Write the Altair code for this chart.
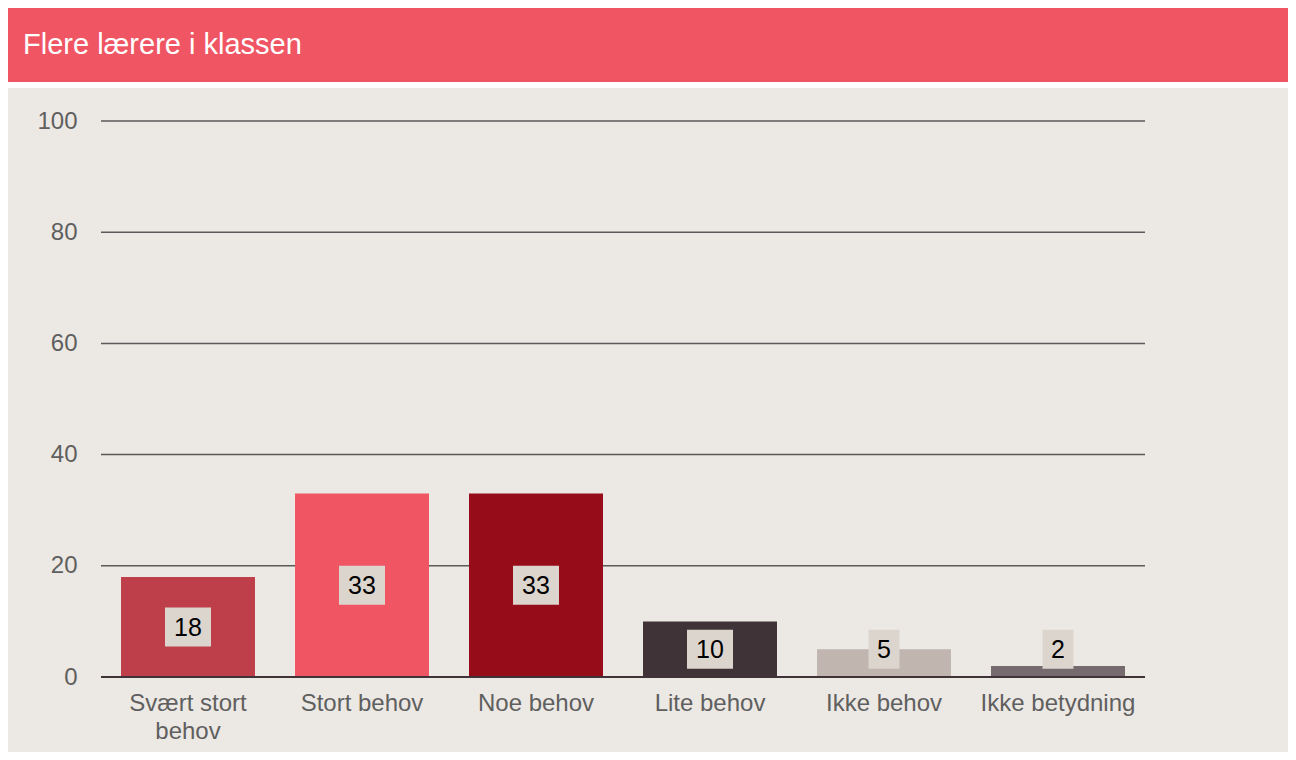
import altair as alt
import pandas as pd

# ---- data ----
categories = ["Svært stort behov", "Stort behov", "Noe behov", "Lite behov", "Ikke behov", "Ikke betydning"]
values = [18, 33, 33, 10, 5, 2]
bar_colors = ["#BE3F4A", "#F05563", "#960C18", "#3F3337", "#C0B5AF", "#756B6F"]
y_ticks = [0, 20, 40, 60, 80, 100]
header_text = "Flere lærere i klassen"

FONT = "Liberation Sans"
BEIGE = "#ECE8E3"
RED = "#F05563"
BOX = "#DCD5CE"

df = pd.DataFrame({"kategori": categories, "verdi": values})
ticks_df = pd.DataFrame({"tick": y_ticks})
one = pd.DataFrame({"d": [0]})

x_scale = alt.Scale(domain=categories, paddingInner=0.23, paddingOuter=0.115)
y_scale = alt.Scale(domain=[0, 100], nice=False)

label_expr = "datum.value == 'Svært stort behov' ? ['Svært stort', 'behov'] : datum.value"

x_enc = alt.X("kategori:N", scale=x_scale, sort=categories, title=None,
              axis=alt.Axis(labelAngle=0, labelFontSize=24, labelColor="#5F5F5F",
                            labelFont=FONT, labelPadding=14, labelLineHeight=28,
                            labelExpr=label_expr, domain=False, ticks=False,
                            grid=False, zindex=1, labelBaseline="top"))
y_enc = alt.Y("verdi:Q", scale=y_scale, title=None,
              axis=alt.Axis(values=y_ticks, labelFontSize=24, labelColor="#5F5F5F",
                            labelFont=FONT, labelPadding=24, domain=False, ticks=False,
                            grid=False, zindex=1))

# decorative panels (beige background, red header band)
bg = alt.Chart(one).mark_rect(color=BEIGE).encode(
    x=alt.value(-93), x2=alt.value(1187), y=alt.value(-33), y2=alt.value(631))
header = alt.Chart(one).mark_rect(color=RED).encode(
    x=alt.value(-93), x2=alt.value(1187), y=alt.value(-113), y2=alt.value(-39))
header_lbl = alt.Chart(pd.DataFrame({"t": [header_text]})).mark_text(
    align="left", baseline="middle", font=FONT, fontSize=29, color="white"
).encode(x=alt.value(-78), y=alt.value(-76), text="t:N")

grid = alt.Chart(ticks_df).transform_filter("datum.tick > 0").mark_rule(
    color="#5A5A5A", strokeWidth=1.5).encode(y=alt.Y("tick:Q", scale=y_scale))

bars = alt.Chart(df).mark_bar().encode(
    x=x_enc, y=y_enc,
    color=alt.Color("kategori:N", scale=alt.Scale(domain=categories, range=bar_colors), legend=None))

lab = alt.Chart(df).transform_calculate(
    pos="max(datum.verdi / 2, 5)",
    lo="max(datum.verdi / 2, 5) - 3.5",
    hi="max(datum.verdi / 2, 5) + 3.5")

box2 = lab.transform_filter("datum.verdi >= 10").mark_bar(width=46, color=BOX).encode(
    x=alt.X("kategori:N", scale=x_scale, sort=categories),
    y=alt.Y("lo:Q", scale=y_scale), y2="hi:Q")
box1 = lab.transform_filter("datum.verdi < 10").mark_bar(width=31, color=BOX).encode(
    x=alt.X("kategori:N", scale=x_scale, sort=categories),
    y=alt.Y("lo:Q", scale=y_scale), y2="hi:Q")
txt = lab.mark_text(font=FONT, fontSize=25, color="#000000", baseline="middle", dy=1).encode(
    x=alt.X("kategori:N", scale=x_scale, sort=categories),
    y=alt.Y("pos:Q", scale=y_scale), text="verdi:Q")

base = alt.Chart(ticks_df).transform_filter("datum.tick == 0").mark_rule(
    color="#3F3337", strokeWidth=2).encode(y=alt.Y("tick:Q", scale=y_scale))

chart = alt.layer(bg, header, header_lbl, grid, bars, box2, box1, txt, base).properties(
    width=1044, height=556, padding=0, background="white"
).configure_view(stroke=None).configure(font=FONT)

chart.save("out.html", embed_options={"renderer": "svg", "actions": False})
